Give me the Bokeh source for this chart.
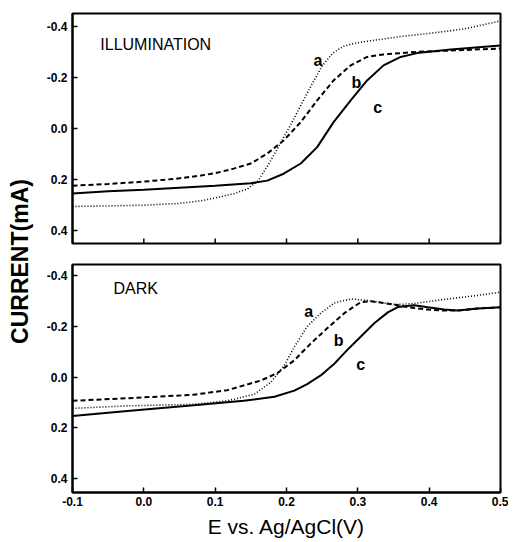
import numpy as np
from bokeh.plotting import figure
from bokeh.layouts import row, column
from bokeh.models import Range1d, FixedTicker, PrintfTickFormatter, Label
from bokeh.embed import file_html
from bokeh.resources import INLINE

# ---------------- data ----------------
x_ticks = [-0.1, 0.0, 0.1, 0.2, 0.3, 0.4, 0.5]
y_ticks = [-0.4, -0.2, 0.0, 0.2, 0.4]

# ILLUMINATION panel
ill_a_x = [-0.1, -0.05, 0.0, 0.05, 0.08, 0.1, 0.126, 0.145, 0.16, 0.175, 0.19, 0.205, 0.22, 0.235, 0.25, 0.265, 0.28, 0.30, 0.33, 0.36, 0.40, 0.45, 0.5]
ill_a_y = [0.305, 0.303, 0.300, 0.293, 0.283, 0.272, 0.255, 0.237, 0.205, 0.14, 0.065, -0.01, -0.09, -0.17, -0.245, -0.295, -0.322, -0.336, -0.348, -0.36, -0.372, -0.39, -0.421]

ill_b_x = [-0.1, -0.05, 0.0, 0.05, 0.08, 0.1, 0.126, 0.15, 0.173, 0.196, 0.22, 0.243, 0.266, 0.29, 0.313, 0.336, 0.36, 0.383, 0.43, 0.5]
ill_b_y = [0.224, 0.217, 0.208, 0.195, 0.184, 0.175, 0.157, 0.137, 0.098, 0.047, -0.025, -0.11, -0.188, -0.247, -0.28, -0.29, -0.295, -0.3, -0.305, -0.313]

ill_c_x = [-0.1, -0.05, 0.0, 0.05, 0.1, 0.15, 0.173, 0.196, 0.22, 0.243, 0.266, 0.29, 0.313, 0.336, 0.36, 0.383, 0.43, 0.5]
ill_c_y = [0.254, 0.246, 0.24, 0.232, 0.224, 0.214, 0.204, 0.177, 0.137, 0.073, -0.025, -0.11, -0.188, -0.247, -0.28, -0.295, -0.309, -0.325]

# DARK panel
dark_a_x = [-0.1, -0.023, 0.07, 0.117, 0.155, 0.178, 0.197, 0.211, 0.229, 0.248, 0.267, 0.29, 0.314, 0.342, 0.356, 0.379, 0.421, 0.468, 0.5]
dark_a_y = [0.123, 0.113, 0.107, 0.093, 0.067, 0.02, -0.047, -0.12, -0.2, -0.253, -0.293, -0.309, -0.303, -0.291, -0.287, -0.291, -0.307, -0.323, -0.336]

dark_b_x = [-0.1, -0.023, 0.07, 0.117, 0.164, 0.187, 0.211, 0.234, 0.257, 0.281, 0.304, 0.318, 0.337, 0.356, 0.379, 0.398, 0.421, 0.44, 0.468, 0.5]
dark_b_y = [0.093, 0.083, 0.069, 0.051, 0.013, -0.016, -0.067, -0.133, -0.193, -0.253, -0.296, -0.3, -0.293, -0.284, -0.273, -0.267, -0.263, -0.263, -0.271, -0.276]

dark_c_x = [-0.1, -0.023, 0.07, 0.14, 0.183, 0.211, 0.229, 0.248, 0.267, 0.285, 0.304, 0.323, 0.342, 0.356, 0.379, 0.398, 0.421, 0.44, 0.468, 0.5]
dark_c_y = [0.153, 0.133, 0.111, 0.093, 0.077, 0.053, 0.027, -0.007, -0.053, -0.107, -0.16, -0.213, -0.256, -0.277, -0.284, -0.276, -0.267, -0.263, -0.271, -0.276]

FONT = "Liberation Sans"
TOP_RANGE = (0.45, -0.45)      # inverted: bottom value first
BOT_RANGE = (0.455, -0.445)


def style_axis(ax):
    ax.axis_line_width = 2
    ax.major_tick_in = 5
    ax.major_tick_out = 0
    ax.major_tick_line_width = 1.5
    ax.minor_tick_line_color = None
    ax.major_label_text_font = FONT
    ax.major_label_text_font_style = "bold"
    ax.major_label_text_font_size = "12px"
    ax.major_label_text_color = "black"


def make_panel(height, border_top, border_bottom, yr, show_xaxis):
    p = figure(width=470, height=height, output_backend="svg", toolbar_location=None,
               x_range=Range1d(-0.1, 0.5), y_range=Range1d(*yr),
               x_axis_location="below" if show_xaxis else None,
               min_border_left=34, min_border_right=8,
               min_border_top=border_top, min_border_bottom=border_bottom)
    p.grid.visible = False
    p.outline_line_color = "black"
    p.outline_line_width = 2
    p.background_fill_color = "white"
    p.border_fill_color = "white"
    style_axis(p.yaxis[0])
    p.yaxis.ticker = FixedTicker(ticks=y_ticks)
    p.yaxis.formatter = PrintfTickFormatter(format="%.1f")
    p.yaxis.major_label_standoff = 5
    if show_xaxis:
        style_axis(p.xaxis[0])
        p.xaxis.ticker = FixedTicker(ticks=x_ticks)
        p.xaxis.formatter = PrintfTickFormatter(format="%.1f")
        p.xaxis.major_label_standoff = 4
    else:
        # inward tick marks on the bottom edge, no labels
        p.ray(x=x_ticks, y=[yr[0]] * len(x_ticks), length=5, length_units="screen",
              angle=np.pi / 2, line_color="black", line_width=1.5)
    return p


def add_curves(p, ax, ay, bx, by, cx, cy):
    p.line(ax, ay, line_color="black", line_width=1.6, line_dash="1 2")
    p.line(bx, by, line_color="black", line_width=2, line_dash="5 3")
    p.line(cx, cy, line_color="black", line_width=2)


def letter(p, x, y, t):
    p.add_layout(Label(x=x, y=y, text=t, text_font=FONT, text_font_style="bold",
                       text_font_size="16px", text_align="center", text_baseline="middle",
                       text_color="black"))


# top panel: frame at y 13..243
top = make_panel(253, 13, 10, TOP_RANGE, False)
add_curves(top, ill_a_x, ill_a_y, ill_b_x, ill_b_y, ill_c_x, ill_c_y)
top.add_layout(Label(x=-0.061, y=-0.33, text="ILLUMINATION", text_font=FONT,
                     text_font_size="16px", text_align="left", text_baseline="middle",
                     text_color="black"))
letter(top, 0.244, -0.266, "a")
letter(top, 0.298, -0.181, "b")
letter(top, 0.328, -0.083, "c")

# bottom panel: frame at y 264..492
bot = make_panel(289, 11, 50, BOT_RANGE, True)
add_curves(bot, dark_a_x, dark_a_y, dark_b_x, dark_b_y, dark_c_x, dark_c_y)
bot.add_layout(Label(x=-0.0425, y=-0.35, text="DARK", text_font=FONT,
                     text_font_size="16px", text_align="left", text_baseline="middle",
                     text_color="black"))
letter(bot, 0.231, -0.261, "a")
letter(bot, 0.273, -0.145, "b")
letter(bot, 0.304, -0.05, "c")
bot.xaxis.axis_label = "E vs. Ag/AgCl(V)"
bot.xaxis.axis_label_text_font = FONT
bot.xaxis.axis_label_text_font_style = "normal"
bot.xaxis.axis_label_text_font_size = "21px"
bot.xaxis.axis_label_text_color = "black"
bot.xaxis.axis_label_standoff = 6

# y title strip
ylab = figure(width=38, height=542, output_backend="svg", toolbar_location=None,
              x_range=Range1d(0, 38), y_range=Range1d(0, 542),
              x_axis_location=None, y_axis_location=None, min_border=0,
              min_border_left=0, min_border_right=0, min_border_top=0, min_border_bottom=0)
ylab.grid.visible = False
ylab.outline_line_color = None
ylab.add_layout(Label(x=19, y=281, text="CURRENT(mA)", angle=np.pi / 2, text_font=FONT,
                      text_font_style="bold", text_font_size="23px", text_align="center",
                      text_baseline="middle", text_color="black"))

layout = row(ylab, column(top, bot))

open("out.html", "w").write(file_html(layout, INLINE))
